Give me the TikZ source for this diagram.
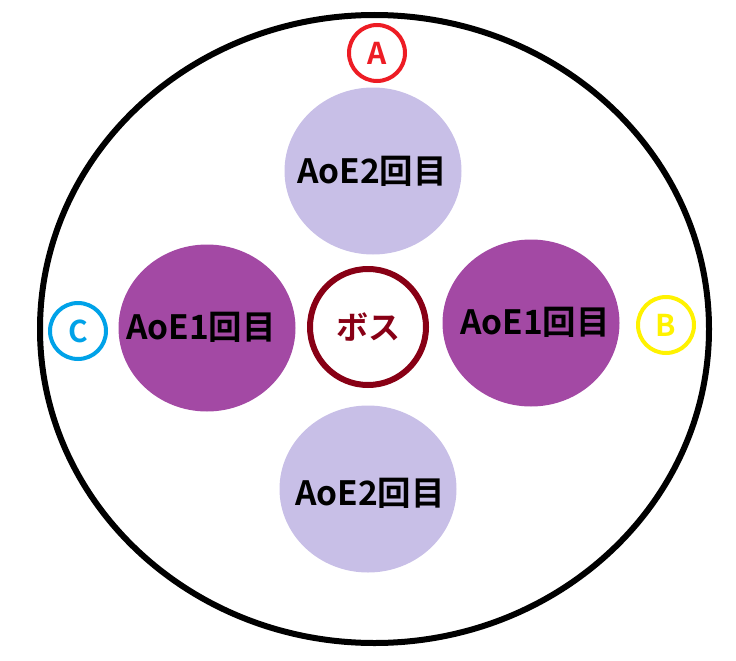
\documentclass[tikz,border=0pt]{standalone}
\usepackage{fontspec}
\usetikzlibrary{shapes.geometric}
\newfontfamily\jp{Noto Sans CJK JP}[BoldFont={Noto Sans CJK JP Bold}]
\definecolor{lav}{HTML}{C8BFE7}
\definecolor{purp}{HTML}{A349A4}
\definecolor{dred}{HTML}{880015}
\definecolor{pred}{HTML}{ED1C24}
\definecolor{pyel}{HTML}{FFF200}
\definecolor{pcyan}{HTML}{00A2E8}
\begin{document}
\begin{tikzpicture}[x=1pt,y=-1pt,
  aoe/.style={ellipse, minimum width=177pt, minimum height=167pt, inner sep=0pt},
  lab/.style={font=\jp\bfseries\fontsize{33.5}{33.5}\selectfont, text=black},
  markc/.style={circle, line width=4pt, minimum size=56pt, inner sep=0pt, font=\jp\bfseries\fontsize{30}{30}\selectfont}]
\useasboundingbox (0,0) rectangle (736,661);
\draw[line width=6pt] (374.5,329) ellipse [x radius=334.5pt, y radius=314pt];
\node[aoe, fill=lav] (top) at (373,171) {};
\node[aoe, fill=lav] (bot) at (368,489) {};
\node[aoe, fill=purp] (left) at (207,328) {};
\node[aoe, fill=purp] (right) at (531,323) {};
\node[lab] (tt) at (372,171) {AoE2回目};
\node[lab] (bt) at (370,493) {AoE2回目};
\node[lab] (lt) at (201,327) {AoE1回目};
\node[lab] (rt) at (535,322) {AoE1回目};
\node[circle, draw=dred, line width=6pt, minimum size=116pt, inner sep=0pt, text=dred, font=\jp\bfseries\fontsize{32}{32}\selectfont] (boss) at (368,327) {ボス};
\node[markc, draw=pred, text=pred] (A) at (377,53) {A};
\node[markc, draw=pyel, text=pyel] (B) at (666,325) {B};
\node[markc, draw=pcyan, text=pcyan] (C) at (78,331) {C};
\end{tikzpicture}
\end{document}
